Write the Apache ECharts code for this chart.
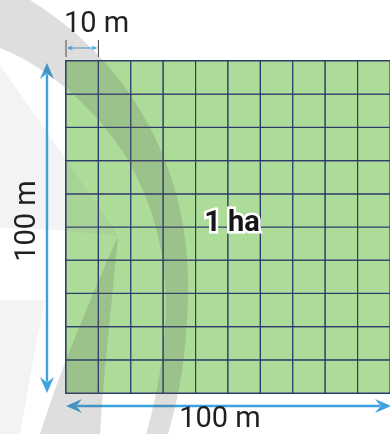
<!DOCTYPE html>
<html>
<head>
<meta charset="utf-8">
<script src="https://cdn.jsdelivr.net/npm/echarts@6/dist/echarts.min.js"></script>
<style>html,body{margin:0;padding:0;background:#fff;}#c{width:390px;height:434px;}</style>
</head>
<body>
<div id="c"></div>
<script>
// ---- data ----
const colStarts = [0, 10, 20, 30, 40, 50, 60, 70, 80, 90];   // metres
const rowStarts = [0, 10, 20, 30, 40, 50, 60, 70, 80, 90];   // metres
const cellSize = 10;                                          // metres
const sideLength = 100;                                       // metres
const topLabel = '10 m';
const sideLabel = '100 m';
const bottomLabel = '100 m';
const centerLabel = '1 ha';

const cells = [];
colStarts.forEach(x => rowStarts.forEach(y => cells.push([x, y])));

const chart = echarts.init(document.getElementById('c'), null, {renderer: 'canvas'});
const GREEN = '#addc99', NAVY = '#2e3c6c', BLUE = '#3ea2de';

chart.setOption({
  animation: false,
  grid: {left: 66, top: 61, width: 331, height: 332, show: true, borderColor: NAVY, borderWidth: 2, backgroundColor: 'transparent'},
  xAxis: {type: 'value', min: 0, max: sideLength, interval: cellSize, show: false},
  yAxis: {type: 'value', min: 0, max: sideLength, interval: cellSize, show: false},
  series: [{
    type: 'custom',
    data: cells,
    clip: false,
    renderItem: function (params, api) {
      const x = api.value(0), y = api.value(1);
      const p0 = api.coord([x, y + cellSize]);
      const p1 = api.coord([x + cellSize, y]);
      return {
        type: 'rect',
        shape: {x: p0[0], y: p0[1], width: p1[0] - p0[0], height: p1[1] - p0[1]},
        style: {fill: GREEN, stroke: NAVY, lineWidth: 1.2}
      };
    }
  }]
});

function arrow(x1, y1, x2, y2, hl, hw, lw, color, startHead, endHead) {
  const els = [];
  const dx = x2 - x1, dy = y2 - y1, L = Math.hypot(dx, dy);
  const ux = dx / L, uy = dy / L, nx = -uy, ny = ux;
  const sx = startHead ? x1 + ux * hl * 0.7 : x1, sy = startHead ? y1 + uy * hl * 0.7 : y1;
  const ex = endHead ? x2 - ux * hl * 0.7 : x2, ey = endHead ? y2 - uy * hl * 0.7 : y2;
  els.push({type: 'line', z: 10, shape: {x1: sx, y1: sy, x2: ex, y2: ey}, style: {stroke: color, lineWidth: lw}});
  const head = (tx, ty, dirx, diry) => ({
    type: 'polygon', z: 10,
    shape: {points: [[tx, ty],
      [tx - dirx * hl + nx * hw, ty - diry * hl + ny * hw],
      [tx - dirx * hl * 0.65, ty - diry * hl * 0.65],
      [tx - dirx * hl - nx * hw, ty - diry * hl - ny * hw]]},
    style: {fill: color}
  });
  if (endHead) els.push(head(x2, y2, ux, uy));
  if (startHead) els.push(head(x1, y1, -ux, -uy));
  return els;
}

// sample a path made of line (2 pts) / cubic (4 pts) segments into a point list
function shapePts(segs) {
  const pts = [];
  segs.forEach(s => {
    if (s.length === 2) { pts.push(s[0], s[1]); return; }
    for (let i = 0; i <= 20; i++) {
      const t = i / 20, m = 1 - t;
      pts.push([
        m*m*m*s[0][0] + 3*m*m*t*s[1][0] + 3*m*t*t*s[2][0] + t*t*t*s[3][0],
        m*m*m*s[0][1] + 3*m*m*t*s[1][1] + 3*m*t*t*s[2][1] + t*t*t*s[3][1]
      ]);
    }
  });
  return pts;
}

const tl = chart.convertToPixel({gridIndex: 0}, [0, sideLength]);
const br = chart.convertToPixel({gridIndex: 0}, [sideLength, 0]);
const c1 = chart.convertToPixel({gridIndex: 0}, [cellSize, sideLength]);
const cx = (tl[0] + br[0]) / 2, cy = (tl[1] + br[1]) / 2;

const WM = 'rgba(90,90,90,0.2)';
const WM2 = 'rgba(120,120,120,0.09)';
const wmA = shapePts([
  [[0,0],[30,0]],
  [[30,0],[70,25],[110,60],[140,110]],
  [[140,110],[170,160],[190,220],[188,300]],
  [[188,300],[186,360],[178,400],[168,434]],
  [[168,434],[146,434]],
  [[146,434],[156,400],[166,350],[166,300]],
  [[166,300],[164,240],[150,200],[128,160]],
  [[128,160],[100,115],[55,70],[0,48]]
]);
const wmB = shapePts([
  [[118,236],[112,300],[104,370],[100,434]],
  [[100,434],[40,434]],
  [[40,434],[60,370],[90,300],[118,236]]
]);
const wmC = shapePts([
  [[0,66],[40,120],[80,180],[118,236]],
  [[118,236],[80,232],[40,228],[0,228]]
]);
const wmD = [[0,300],[45,300],[35,350],[20,434],[0,434]];

const graphics = [
  {type: 'polygon', z: 20, silent: true, shape: {points: wmA}, style: {fill: WM}},
  {type: 'polygon', z: 20, silent: true, shape: {points: wmB}, style: {fill: WM}},
  {type: 'polygon', z: 20, silent: true, shape: {points: wmC}, style: {fill: WM2}},
  {type: 'polygon', z: 20, silent: true, shape: {points: wmD}, style: {fill: WM2}},

  // top scale marker
  {type: 'line', z: 10, shape: {x1: tl[0], y1: 40, x2: tl[0], y2: 57}, style: {stroke: '#444', lineWidth: 1}},
  {type: 'line', z: 10, shape: {x1: c1[0], y1: 40, x2: c1[0], y2: 57}, style: {stroke: '#444', lineWidth: 1}},
  ...arrow(tl[0] + 1, 48, c1[0] - 1, 48, 6, 2.6, 1, BLUE, true, true),
  // side arrows
  ...arrow(47, tl[1] + 2, 47, br[1], 16, 7, 2.4, BLUE, true, true),
  ...arrow(tl[0], 406, 391, 406, 16, 7, 2.4, BLUE, true, true),

  // texts
  {type: 'text', z: 30, x: 64, y: 25, style: {text: topLabel, font: '29px Roboto', fill: '#231f20', align: 'left', verticalAlign: 'middle'}},
  {type: 'text', z: 30, x: 220, y: 420, style: {text: bottomLabel, font: '29px Roboto', fill: '#231f20', align: 'center', verticalAlign: 'middle'}},
  {type: 'text', z: 30, x: 28, y: 221, rotation: Math.PI / 2, style: {text: sideLabel, font: '29px Roboto', fill: '#231f20', align: 'center', verticalAlign: 'middle'}},
  {type: 'text', z: 30, x: cx + 4, y: cy - 3, style: {text: centerLabel, font: 'bold 29px Roboto', fill: 'none', stroke: '#ffffff', lineWidth: 5, lineJoin: 'round', align: 'center', verticalAlign: 'middle'}},
  {type: 'text', z: 31, x: cx + 4, y: cy - 3, style: {text: centerLabel, font: 'bold 29px Roboto', fill: '#161616', align: 'center', verticalAlign: 'middle'}}
];
chart.setOption({graphic: graphics});
</script>
</body>
</html>
